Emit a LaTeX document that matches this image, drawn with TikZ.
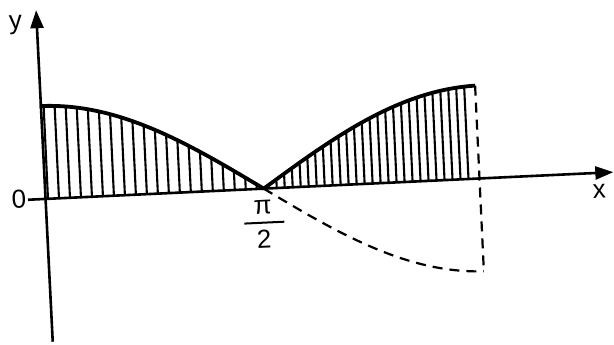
\documentclass[tikz,border=0pt]{standalone}
\usepackage{fontspec}
\setmainfont{Liberation Sans}
\usetikzlibrary{arrows.meta}
\tikzset{
  axisline/.style={line width=2.6pt,-{Triangle[length=18pt,width=13pt]}},
  curveline/.style={line width=3.8pt,line join=round},
  hatchline/.style={line width=2.1pt},
  dashline/.style={line width=2.2pt,dash pattern=on 10pt off 7pt},
  lbl/.style={font=\fontsize{26}{30}\selectfont,inner sep=0pt}
}
\begin{document}
\begin{tikzpicture}[x=1pt,y=1pt]
\useasboundingbox (0,0) rectangle (614,-345);
\begin{scope}[shift={(44,-199)},rotate=2.7,transform shape]
  \coordinate (O) at (0,0);
  \coordinate (ybot) at (2,-143);
  \coordinate (ytop) at (1,189);
  \coordinate (xleft) at (-16,0);
  \coordinate (xtip) at (570,0);
  \coordinate (half) at (220,0);
  \coordinate (rtop) at (436,{93*abs(cos(436/220*90))});
  \coordinate (rbot) at (436,{93*cos(436/220*90)});
  % hatching
  \foreach \u in {4,15,...,213,225,233,...,432}
    \draw[hatchline] (\u,0) -- (\u,{93*abs(cos(\u/220*90))});
  % axes
  \draw[axisline] (ybot) -- (ytop);
  \draw[axisline] (xleft) -- (xtip);
  % solid |cos|
  \draw[curveline] plot[domain=0:436,samples=110] (\x,{93*abs(cos(\x/220*90))});
  % dashed cos below axis
  \draw[dashline] plot[domain=220:436,samples=55] (\x,{93*cos(\x/220*90)});
  \draw[dashline] (rtop) -- (rbot);
  % labels
  \node[lbl] (ylab) at (-20,175) {y};
  \node[lbl] (xlab) at (555,-18) {x};
  \node[lbl] (zero) at (-25,1) {0};
  \node[lbl] (pi) at (218,-19) {π};
  \node[lbl] (two) at (218,-50) {2};
  \coordinate (barl) at (199,-34);
  \coordinate (barr) at (239,-34);
  \draw[line width=2pt] (barl) -- (barr);
\end{scope}
\end{tikzpicture}
\end{document}
